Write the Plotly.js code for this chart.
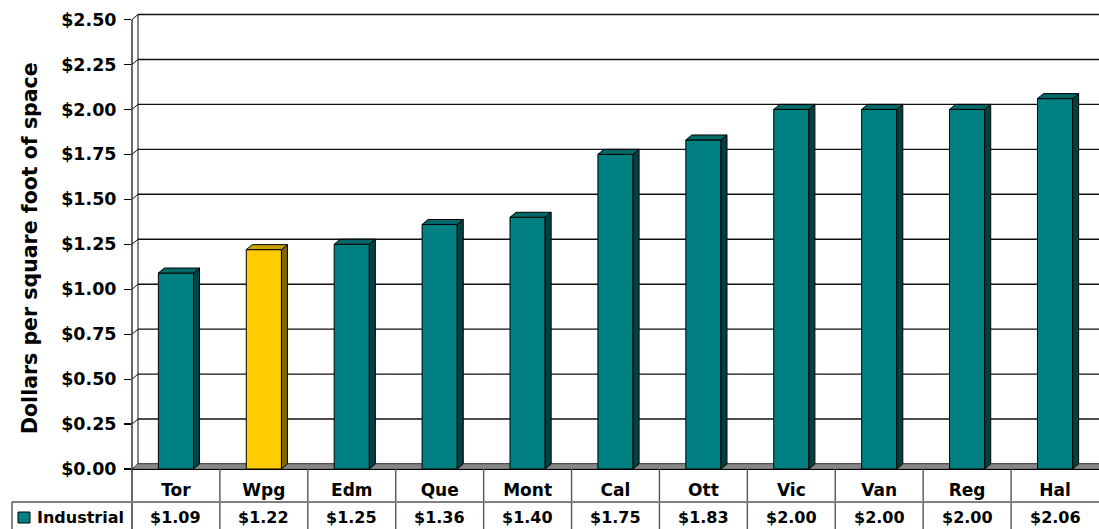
<!DOCTYPE html>
<html>
<head>
<meta charset="utf-8">
<script src="https://cdn.plot.ly/plotly-3.0.1.min.js"></script>
<style>html,body{margin:0;padding:0;background:#fff;}#chart{width:1099px;height:529px;}</style>
</head>
<body>
<div id="chart"></div>
<script>
// ---- data ----
const categories = ['Tor','Wpg','Edm','Que','Mont','Cal','Ott','Vic','Van','Reg','Hal'];
const values = [1.09, 1.22, 1.25, 1.36, 1.40, 1.75, 1.83, 2.00, 2.00, 2.00, 2.06];
const seriesName = 'Industrial';
const highlightCategory = 'Wpg';
const yTickValues = [0, 0.25, 0.5, 0.75, 1.0, 1.25, 1.5, 1.75, 2.0, 2.25, 2.5];
const yTitle = 'Dollars per square foot of space';

// ---- geometry / style ----
const W = 1099, H = 529;
const M = {l: 132, r: 0, t: 10, b: 60};
const plotW = W - M.l - M.r, plotH = H - M.t - M.b;
const nCat = categories.length;
const pxPerCat = plotW / nCat;
const pxPerUnit = 179.8;
const yMax = plotH / pxPerUnit;
const depthX = 6 / pxPerCat;     // 3D depth in data units
const depthY = 5 / pxPerUnit;
const barW = 0.4;
const FONT = 'DejaVu Sans';

const teal = {front: '#008080', side: '#004242', top: '#006868'};
const gold = {front: '#FFCC00', side: '#7F6600', top: '#C9A200'};

const xIdx = categories.map((c, i) => i);
const colorSet = categories.map(c => c === highlightCategory ? gold : teal);
const fmt = v => '$' + v.toFixed(2);

const shapes = [];
// back-wall gridlines
yTickValues.forEach(v => {
  shapes.push({type: 'line', layer: 'below', xref: 'x', yref: 'y',
    x0: -0.5 + depthX, x1: nCat - 0.5 + depthX, y0: v + depthY, y1: v + depthY,
    line: {color: '#111', width: 1.4}});
  // left wall connectors
  shapes.push({type: 'line', layer: 'below', xref: 'x', yref: 'y',
    x0: -0.5, x1: -0.5 + depthX, y0: v, y1: v + depthY,
    line: {color: '#111', width: 1}});
});
// floor
shapes.push({type: 'path', layer: 'below', xref: 'x', yref: 'y',
  path: `M${-0.5},0 L${nCat - 0.5 + depthX},0 L${nCat - 0.5 + depthX},${depthY} L${-0.5 + depthX},${depthY} Z`,
  fillcolor: '#868686', line: {color: '#555', width: 0.6}});
// left wall back line
shapes.push({type: 'line', layer: 'below', xref: 'x', yref: 'y',
  x0: -0.5 + depthX, x1: -0.5 + depthX, y0: depthY, y1: yTickValues[yTickValues.length - 1] + depthY,
  line: {color: '#111', width: 1}});
// left wall front line
shapes.push({type: 'line', layer: 'above', xref: 'paper', yref: 'y',
  x0: 0, x1: 0, y0: 0, y1: yTickValues[yTickValues.length - 1],
  line: {color: '#000', width: 1.2}});

// bar side and top faces
values.forEach((v, i) => {
  const xl = i - barW / 2, xr = i + barW / 2;
  shapes.push({type: 'path', layer: 'above', xref: 'x', yref: 'y',
    path: `M${xr},0 L${xr + depthX},${depthY} L${xr + depthX},${v + depthY} L${xr},${v} Z`,
    fillcolor: colorSet[i].side, line: {color: '#000', width: 1}});
  shapes.push({type: 'path', layer: 'above', xref: 'x', yref: 'y',
    path: `M${xl},${v} L${xl + depthX},${v + depthY} L${xr + depthX},${v + depthY} L${xr},${v} Z`,
    fillcolor: colorSet[i].top, line: {color: '#000', width: 1}});
});

// data table below the plot
const py = px => (H - M.b - px) / plotH;      // page pixel y -> paper y
const pxX = px => (px - M.l) / plotW;          // page pixel x -> paper x
const bottomY = py(H + 5);
for (let k = 0; k < nCat; k++) {
  shapes.push({type: 'line', xref: 'paper', yref: 'paper',
    x0: k / nCat, x1: k / nCat, y0: 0, y1: bottomY,
    line: {color: k === 0 ? '#000' : '#555', width: k === 0 ? 1.2 : 1.4}});
}
shapes.push({type: 'line', xref: 'paper', yref: 'paper',
  x0: pxX(12), x1: 1, y0: py(502), y1: py(502), line: {color: '#808080', width: 2}});
shapes.push({type: 'line', xref: 'paper', yref: 'paper',
  x0: pxX(12), x1: pxX(12), y0: py(502), y1: bottomY, line: {color: '#333', width: 1.2}});
// legend key
shapes.push({type: 'rect', xref: 'paper', yref: 'paper',
  x0: pxX(18), x1: pxX(30), y0: py(523), y1: py(512),
  fillcolor: teal.front, line: {color: '#000', width: 1}});

const annotations = values.map((v, i) => ({
  x: i, xref: 'x', y: py(517.5), yref: 'paper', text: fmt(v), showarrow: false,
  xanchor: 'center', yanchor: 'middle',
  font: {family: FONT, size: 16, weight: 'bold', color: '#000'}
}));
annotations.push({x: pxX(35), xref: 'paper', y: py(517.5), yref: 'paper', text: seriesName,
  showarrow: false, xanchor: 'left', yanchor: 'middle',
  font: {family: FONT, size: 16, weight: 'bold', color: '#000'}});
// y-axis title placed to match the reference
annotations.push({x: pxX(30), xref: 'paper', y: py(248), yref: 'paper', text: yTitle,
  textangle: -90, showarrow: false, xanchor: 'center', yanchor: 'middle',
  font: {family: FONT, size: 20.5, weight: 'bold', color: '#000'}});

const trace = {
  type: 'bar', x: xIdx, y: values, width: barW, name: seriesName,
  marker: {color: colorSet.map(c => c.front), line: {color: '#000', width: 1}},
  hoverinfo: 'x+y'
};

const layout = {
  width: W, height: H, margin: M,
  paper_bgcolor: '#fff', plot_bgcolor: '#fff',
  showlegend: false, bargap: 0,
  font: {family: FONT, color: '#000'},
  xaxis: {range: [-0.5, nCat - 0.5], tickmode: 'array', tickvals: xIdx, ticktext: categories,
    showgrid: false, zeroline: false, showline: true, linecolor: '#000', linewidth: 1.2,
    ticks: '', ticklabelstandoff: 5, automargin: false,
    tickfont: {family: FONT, size: 17, weight: 'bold', color: '#000'}},
  yaxis: {range: [0, yMax], tickmode: 'array', tickvals: yTickValues,
    ticktext: yTickValues.map(fmt),
    showgrid: false, zeroline: false, showline: false,
    ticks: 'outside', ticklen: 7, tickcolor: '#000', tickwidth: 1.2,
    ticklabelstandoff: 4, automargin: false,
    tickfont: {family: FONT, size: 17.5, weight: 'bold', color: '#000'}},
  shapes: shapes, annotations: annotations
};

Plotly.newPlot('chart', [trace], layout, {displayModeBar: false, staticPlot: true});
</script>
</body>
</html>
